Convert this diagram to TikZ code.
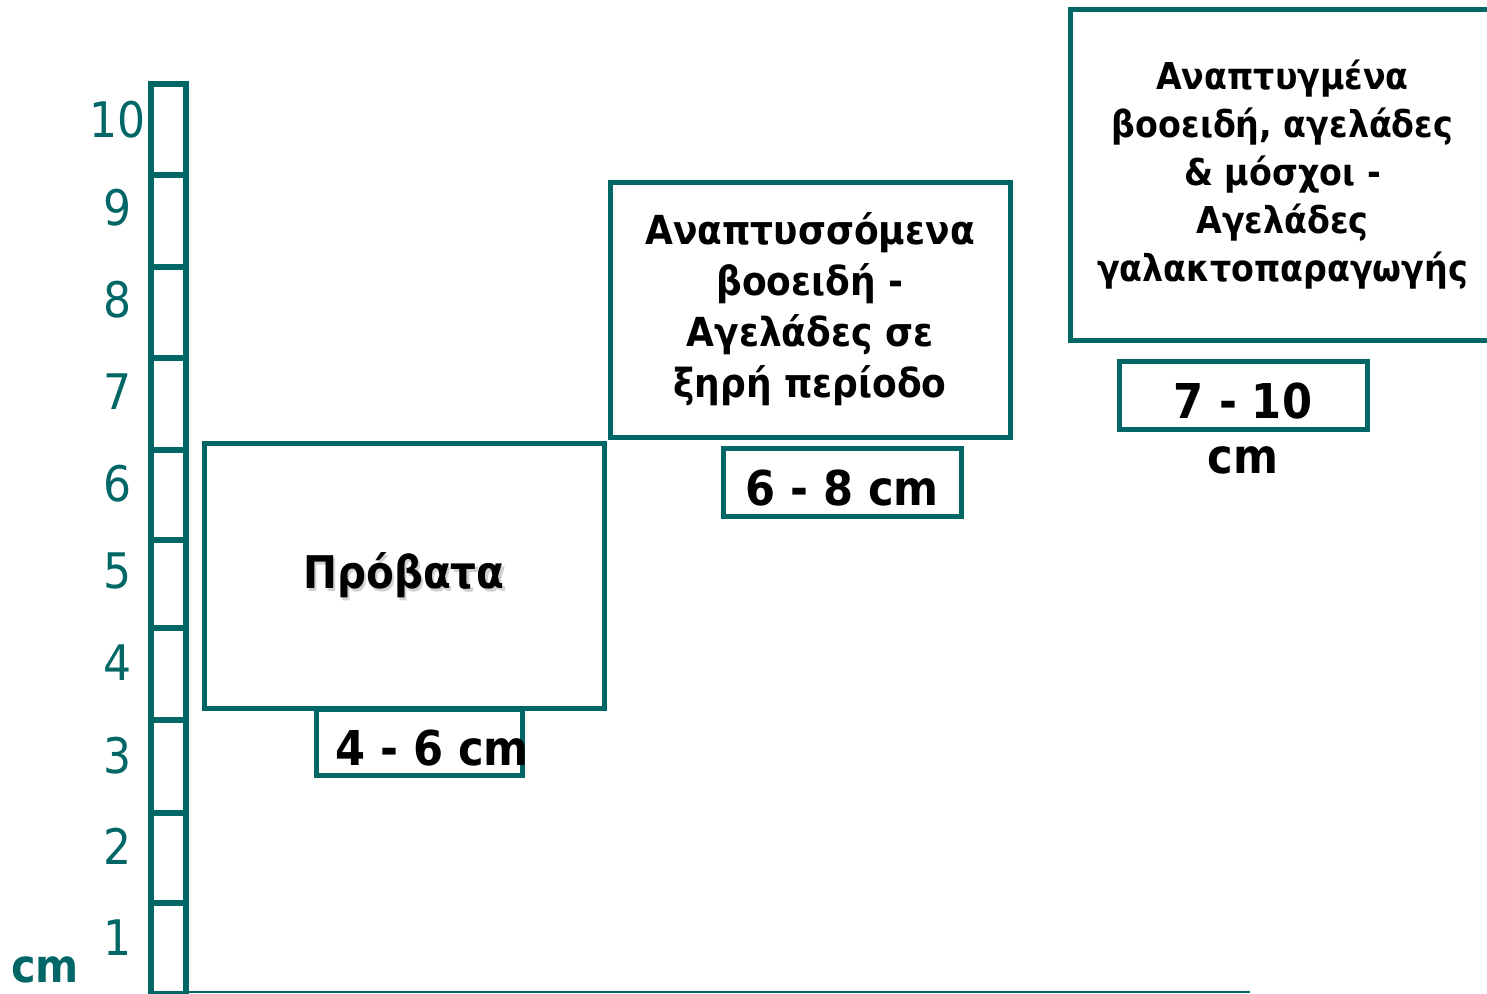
\documentclass[tikz,border=0pt]{standalone}
\usepackage{fontspec}
\setmainfont{DejaVu Sans}[FakeStretch=0.9]
\definecolor{rulc}{RGB}{0,102,102}
\tikzset{
  rul/.style={draw=rulc, line width=6pt},
  boxb/.style={draw=rulc, line width=5pt, inner sep=0pt, align=center, font=\bfseries\fontsize{40}{51}\selectfont},
  lab/.style={text=rulc, inner sep=0pt, font=\fontsize{49}{55}\selectfont},
  big/.style={inner sep=0pt, font=\bfseries\fontsize{48}{55}\selectfont},
}
\begin{document}
\begin{tikzpicture}[x=1pt,y=-1pt]
\useasboundingbox (0,0) rectangle (1487,993);
% ruler
\draw[rul] (151,84) rectangle (186,996);
\foreach \y in {175,267,358,450,540,628,720,813,903}
  \draw[rul] (151,\y) -- (186,\y);
\draw[draw=rulc, line width=2.5pt] (151,992) -- (1250,992);
\foreach \n/\y in {10/120,9/208,8/300,7/392,6/484,5/571,4/663,3/756,2/846,1/938}
  \node[lab] (l\n) at (118,\y) {\n};
\node[inner sep=0pt, anchor=base, text=rulc, font=\bfseries\fontsize{46}{50}\selectfont] (cmu) at (45,982) {cm};
% boxes
\node[boxb, minimum width=400pt, minimum height=265pt] (sheep) at (404,575.5) {};
\node[text=black!18, inner sep=0pt, font=\bfseries\fontsize{45}{50}\selectfont] (sheepsh) at (406.5,578) {Πρόβατα};
\node[inner sep=0pt, font=\bfseries\fontsize{45}{50}\selectfont] (sheept) at (404,575) {Πρόβατα};
\node[boxb, minimum width=206pt, minimum height=66pt] (r1) at (419,742) {};
\node[big, anchor=base west] (t1) at (335,765) {4 - 6 cm};

\node[boxb, minimum width=400pt, minimum height=255pt] (dev) at (810,309.5)
  {Αναπτυσσόμενα\\βοοειδή -\\Αγελάδες σε\\ξηρή περίοδο};
\node[boxb, minimum width=238pt, minimum height=68pt] (r2) at (842,482) {};
\node[big, anchor=base west] (t2) at (745,505) {6 - 8 cm};

\node[boxb, minimum width=425pt, minimum height=331pt, font=\bfseries\fontsize{37}{48}\selectfont] (adult) at (1282.5,174.5)
  {Αναπτυγμένα\\βοοειδή, αγελάδες\\\& μόσχοι -\\Αγελάδες\\γαλακτοπαραγωγής};
\node[boxb, minimum width=248pt, minimum height=68pt] (r3) at (1243,395) {};
\node[big, anchor=base] (t3) at (1243,418) {7 - 10};
\node[big, anchor=base] (t3b) at (1243,473) {cm};
\end{tikzpicture}
\end{document}
